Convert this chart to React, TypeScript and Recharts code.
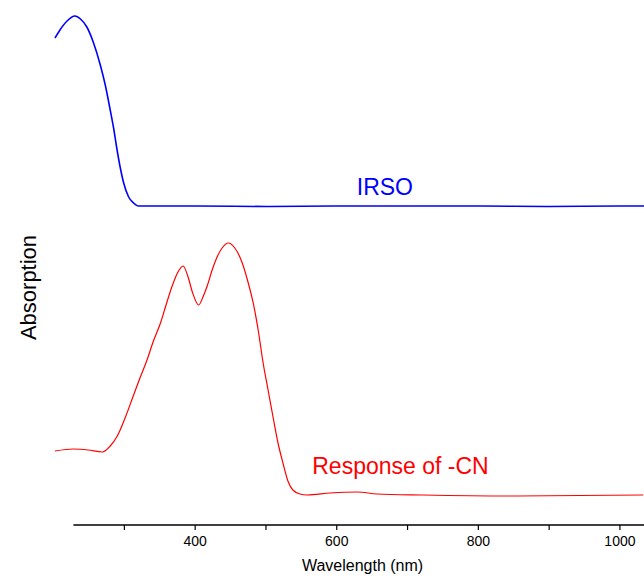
import { LineChart, Line, XAxis, YAxis, ReferenceLine, ReferenceDot, Label } from 'recharts'

// IRSO spectrum (blue), offset upward on the plot
const irsoWavelength = [202, 209, 219, 230, 238, 247, 256, 266, 273, 280, 285, 289, 294, 299, 306, 313, 320, 340, 400, 500, 600, 700, 800, 900, 1000, 1034]
const irsoAbs = [4.87, 4.95, 5.04, 5.09, 5.06, 4.98, 4.83, 4.6, 4.4, 4.15, 3.96, 3.78, 3.58, 3.42, 3.28, 3.22, 3.19, 3.19, 3.19, 3.185, 3.19, 3.19, 3.19, 3.185, 3.19, 3.19]

// response of -CN (red)
const cnWavelength = [202, 228, 249, 269, 280, 290, 301, 312, 322, 332, 341, 351, 358, 367, 375, 383, 390, 396, 405, 411, 417, 424, 431, 438, 447, 456, 466, 475, 482, 489, 496, 503, 510, 517, 524, 531, 538, 548, 558, 591, 629, 657, 722, 855, 1033]
const cnAbs = [0.74, 0.76, 0.75, 0.73, 0.79, 0.89, 1.07, 1.28, 1.47, 1.65, 1.84, 2.02, 2.18, 2.38, 2.52, 2.59, 2.48, 2.33, 2.2, 2.28, 2.39, 2.55, 2.68, 2.77, 2.82, 2.77, 2.63, 2.42, 2.22, 1.95, 1.62, 1.35, 1.08, 0.82, 0.62, 0.44, 0.35, 0.31, 0.3, 0.32, 0.33, 0.31, 0.3, 0.29, 0.3]

const xTicks = [300, 400, 500, 600, 700, 800, 900, 1000]

const irsoData = irsoWavelength.map((nm, i) => ({ nm, v: irsoAbs[i] }))
const cnData = cnWavelength.map((nm, i) => ({ nm, v: cnAbs[i] }))

const FONT = 'Arial, "Liberation Sans", sans-serif'

function XTick(props: any) {
  const { x, y, payload } = props
  // only every other tick carries a label
  if (payload.value % 200 !== 0) return null
  return (
    <text x={x} y={y} dy="0.71em" textAnchor="middle" style={{ fontSize: '14px', fontFamily: FONT }} fill="#000">
      {payload.value}
    </text>
  )
}

function YTitle(props: any) {
  const { viewBox } = props
  const cx = viewBox.x + 28
  const cy = viewBox.y + viewBox.height / 2 + 25
  return (
    <text
      x={cx}
      y={cy}
      transform={`rotate(-90 ${cx} ${cy})`}
      textAnchor="middle"
      dominantBaseline="central"
      fontSize={22}
      fontFamily={FONT}
      fill="#000"
    >
      Absorption
    </text>
  )
}

export default function App() {
  return (
    <div style={{ position: 'absolute', left: 0, top: 0, width: 644, height: 576, background: '#fff' }}>
      <LineChart width={644} height={576} margin={{ top: 0, right: 0, bottom: 0, left: 0 }}>
        <XAxis
          type="number"
          dataKey="nm"
          domain={[202, 1034]}
          ticks={xTicks}
          axisLine={false}
          tickLine={{ stroke: '#000', strokeWidth: 1.2 }}
          tickSize={5}
          tickMargin={6}
          height={51}
          tick={<XTick />}
        >
          <Label
            value="Wavelength (nm)"
            position="insideBottom"
            offset={5}
            dx={13}
            style={{ fill: '#000', fontSize: 16, fontFamily: FONT }}
          />
        </XAxis>
        <YAxis
          type="number"
          domain={[0, 5.25]}
          width={55}
          tick={false}
          axisLine={false}
          tickLine={false}
          label={{ content: <YTitle /> }}
        />
        <ReferenceLine
          segment={[{ x: 228, y: 0 }, { x: 1034, y: 0 }]}
          stroke="#000"
          strokeWidth={1.4}
        />
        <Line
          data={irsoData}
          dataKey="v"
          type="monotone"
          stroke="#0000ff"
          strokeWidth={1.6}
          dot={false}
          isAnimationActive={false}
        />
        <Line
          data={cnData}
          dataKey="v"
          type="monotone"
          stroke="#ff0000"
          strokeWidth={1.2}
          dot={false}
          isAnimationActive={false}
        />
        <ReferenceDot
          x={668}
          y={3.38}
          r={1}
          fill="none"
          stroke="none"
          label={{ value: 'IRSO', position: 'center', fill: '#0000ff', fontSize: 23, fontFamily: FONT }}
        />
        <ReferenceDot
          x={690}
          y={0.595}
          r={1}
          fill="none"
          stroke="none"
          label={{ value: 'Response of -CN', position: 'center', fill: '#ff0000', fontSize: 23, fontFamily: FONT }}
        />
      </LineChart>
    </div>
  )
}
